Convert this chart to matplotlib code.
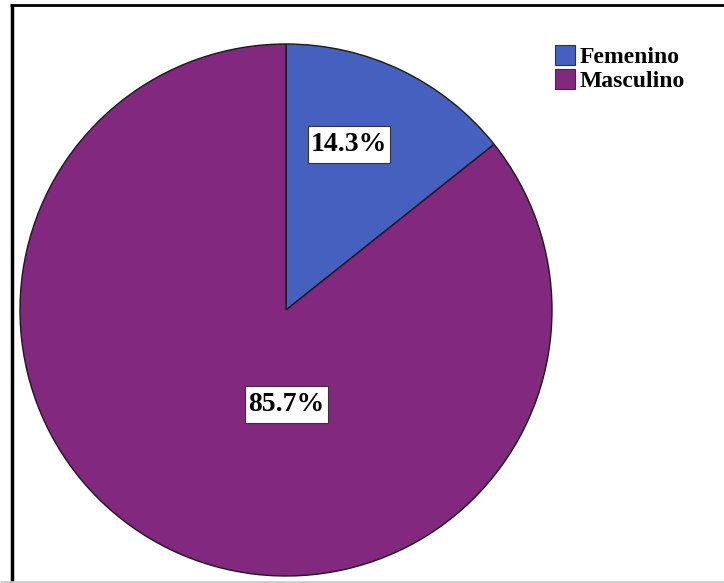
import matplotlib
matplotlib.use("Agg")
import matplotlib.pyplot as plt
from matplotlib.lines import Line2D
from matplotlib.patches import Rectangle

# Sex distribution
categories = ["Femenino", "Masculino"]
percentages = [14.3, 85.7]
colors = ["#4660C0", "#82287F"]

W, H = 724, 583
fig = plt.figure(figsize=(W / 100, H / 100), dpi=100)
fig.patch.set_facecolor("white")

# Pie axes placed in pixel terms: circle centred at (286, 310), radius 266
cx, cy, r = 286, 310, 266
ax = fig.add_axes([(cx - r) / W, (H - cy - r) / H, 2 * r / W, 2 * r / H])
wedges, _ = ax.pie(percentages, colors=colors, startangle=90, counterclock=False,
                   radius=1.0, wedgeprops=dict(edgecolor="#1a1a1a", linewidth=1.0))
ax.set_xlim(-1, 1)
ax.set_ylim(-1, 1)
ax.set_aspect("equal")
ax.axis("off")

# Percentage labels
label_pos = [(0.237, 0.624), (0.002, -0.357)]
labels = []
for pct, (x, y) in zip(percentages, label_pos):
    t = ax.text(x, y, f"{pct:.1f}%", ha="center", va="center", zorder=6,
                fontsize=20, fontweight="bold", family="Liberation Serif", color="black")
    labels.append(t)

# White boxes behind the labels, taller than the text extent
fig.canvas.draw()
renderer = fig.canvas.get_renderer()
pad_x, pad_y = 3, 6
for t in labels:
    bb = t.get_window_extent(renderer)
    fig.add_artist(Rectangle((bb.x0 - pad_x, bb.y0 - pad_y),
                             bb.width + 2 * pad_x, bb.height + 2 * pad_y,
                             transform=None, facecolor="white", edgecolor="#333333",
                             linewidth=0.8, zorder=5))
    t.remove()
    fig.add_artist(t)

# Legend at upper right
leg = fig.legend(wedges, categories, loc="upper left",
                 bbox_to_anchor=(555 / W, 1 - 45 / H), frameon=False,
                 prop=dict(family="Liberation Serif", weight="bold", size=17),
                 handlelength=0.85, handleheight=0.9, handletextpad=0.2,
                 labelspacing=0.05, borderpad=0, borderaxespad=0)
for h in leg.legend_handles:
    h.set_edgecolor("#333333")
    h.set_linewidth(0.8)

# Outer frame: black left and top edges, light grey bottom edge
fig.add_artist(Line2D([11.5 / W, 11.5 / W], [0, 1 - 4 / H], transform=fig.transFigure,
                      color="black", linewidth=2.5, solid_capstyle="butt"))
fig.add_artist(Line2D([10 / W, 1], [1 - 5 / H, 1 - 5 / H], transform=fig.transFigure,
                      color="black", linewidth=2.0, solid_capstyle="butt"))
fig.add_artist(Line2D([0, 1], [1.2 / H, 1.2 / H], transform=fig.transFigure,
                      color="#c8c8c8", linewidth=1.8, solid_capstyle="butt"))

fig.savefig("out.png", dpi=100, facecolor="white")
